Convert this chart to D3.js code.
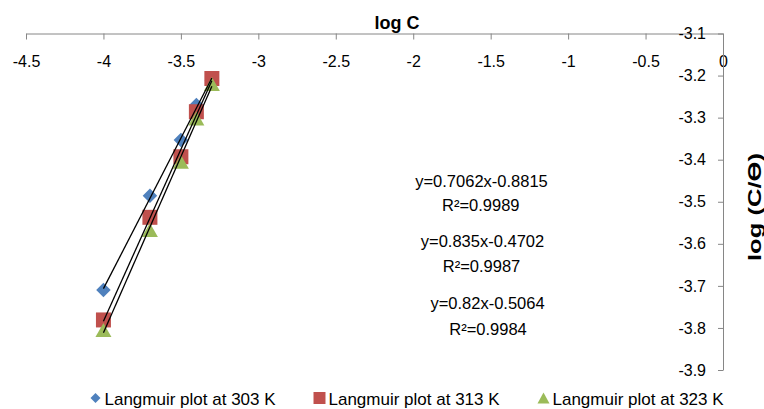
<!DOCTYPE html>
<html>
<head>
<meta charset="utf-8">
<script src="https://cdn.jsdelivr.net/npm/d3@7"></script>
<style>
  body { margin: 0; background: #fff; }
  svg  { display: block; font-family: "Liberation Sans", Arial, sans-serif; }
</style>
</head>
<body>
<div id="chart"></div>
<script>
// log C, shared by the three temperatures
var logC = [-4, -3.7, -3.5, -3.4, -3.3];

// log (C/θ), one list per temperature
var logCTheta303 = [-3.71, -3.486, -3.353, -3.27, -3.212];
var logCTheta313 = [-3.781, -3.537, -3.393, -3.286, -3.207];
var logCTheta323 = [-3.805, -3.567, -3.405, -3.302, -3.22];

var seriesNames = ['Langmuir plot at 303 K', 'Langmuir plot at 313 K', 'Langmuir plot at 323 K'];
var fitEquations = ['y=0.7062x-0.8815', 'y=0.835x-0.4702', 'y=0.82x-0.5064'];
var fitR2        = ['R²=0.9989', 'R²=0.9987', 'R²=0.9984'];

var xTicks = [-4.5, -4, -3.5, -3, -2.5, -2, -1.5, -1, -0.5, 0];
var yTicks = [-3.9, -3.8, -3.7, -3.6, -3.5, -3.4, -3.3, -3.2, -3.1];

// Layout
var W = 764, H = 409;
var colors  = ['#4F81BD', '#C0504D', '#9BBB59'];
var shapes  = ['diamond', 'square', 'triangle'];
var axisCol = '#868686';

var svg = d3.select('#chart').append('svg')
    .attr('width', W)
    .attr('height', H);

var x = d3.scaleLinear().domain([-4.5, 0]).range([26, 723]);
var y = d3.scaleLinear().domain([-3.9, -3.1]).range([370, 33.5]);

// Marker outlines, centred on their bounding box
function marker(kind, w, h){
    var a = w / 2, b = h / 2;
    if(kind == 'diamond')
        return 'M0,' + (-b) + 'L' + a + ',0L0,' + b + 'L' + (-a) + ',0Z';
    if(kind == 'square')
        return 'M' + (-a) + ',' + (-b) + 'H' + a + 'V' + b + 'H' + (-a) + 'Z';
    return 'M0,' + (-b) + 'L' + a + ',' + b + 'L' + (-a) + ',' + b + 'Z';
}
var plotSize   = { diamond: [14.5, 14.5], square: [15, 15], triangle: [16, 14] };
var legendSize = { diamond: [10, 10],     square: [12, 12], triangle: [12, 11] };

// X axis on top
var xAxis = svg.append('g')
    .attr('transform', 'translate(0,' + y(-3.1) + ')')
    .call(d3.axisBottom(x).tickValues(xTicks).tickSize(6).tickSizeOuter(0)
        .tickFormat(function(d){ return String(d); }));
xAxis.selectAll('path, line').attr('stroke', axisCol);
xAxis.selectAll('text')
    .attr('y', 33).attr('dy', 0)
    .attr('font-size', 16).attr('font-family', null).attr('fill', '#000');

// Y axis on the right, labels to its left
var yAxis = svg.append('g')
    .attr('transform', 'translate(' + x(0) + ',0)')
    .call(d3.axisLeft(y).tickValues(yTicks).tickSize(5).tickPadding(12).tickSizeOuter(0)
        .tickFormat(function(d){ return d.toFixed(1); }));
yAxis.selectAll('path, line').attr('stroke', axisCol);
yAxis.selectAll('text')
    .attr('font-size', 16).attr('font-family', null).attr('fill', '#000');

// Axis titles
svg.append('text')
    .attr('x', 397).attr('y', 29)
    .attr('text-anchor', 'middle')
    .attr('font-size', 18).attr('font-weight', 'bold')
    .text('log C');

svg.append('text')
    .attr('transform', 'translate(761,207) rotate(-90)')
    .attr('text-anchor', 'middle')
    .attr('font-size', 19).attr('font-weight', 'bold')
    .attr('textLength', 108).attr('lengthAdjust', 'spacingAndGlyphs')
    .text('log (C/ϴ)');

// Series
var series = [logCTheta303, logCTheta313, logCTheta323].map(function(vals, i){
    return {
        name  : seriesNames[i],
        color : colors[i],
        shape : shapes[i],
        pts   : logC.map(function(c, j){ return { x: c, y: vals[j] }; })
    };
});

series.forEach(function(s){
    var sz = plotSize[s.shape];
    svg.append('g').selectAll('path')
        .data(s.pts)
        .enter()
        .append('path')
        .attr('transform', function(d){ return 'translate(' + x(d.x) + ',' + y(d.y) + ')'; })
        .attr('d', marker(s.shape, sz[0], sz[1]))
        .attr('fill', s.color);
});

// Linear trend lines (least squares) drawn on top
series.forEach(function(s){
    var mx = d3.mean(s.pts, function(d){ return d.x; });
    var my = d3.mean(s.pts, function(d){ return d.y; });
    var sxy = d3.sum(s.pts, function(d){ return (d.x - mx) * (d.y - my); });
    var sxx = d3.sum(s.pts, function(d){ return (d.x - mx) * (d.x - mx); });
    var m = sxy / sxx, b = my - m * mx;
    var ends = d3.extent(s.pts, function(d){ return d.x; });
    svg.append('line')
        .attr('x1', x(ends[0])).attr('y1', y(m * ends[0] + b))
        .attr('x2', x(ends[1])).attr('y2', y(m * ends[1] + b))
        .attr('stroke', '#000')
        .attr('stroke-width', 1.3);
});

// Trend line labels
var eqPos = [[481.5, 187], [482.5, 247], [487.5, 309]];
var r2Pos = [[480.8, 211], [481.5, 271.5], [488, 335]];
fitEquations.forEach(function(t, i){
    svg.append('text')
        .attr('x', eqPos[i][0]).attr('y', eqPos[i][1])
        .attr('text-anchor', 'middle').attr('font-size', 16.5)
        .text(t);
    svg.append('text')
        .attr('x', r2Pos[i][0]).attr('y', r2Pos[i][1])
        .attr('text-anchor', 'middle').attr('font-size', 16.5)
        .text(fitR2[i]);
});

// Legend
var legendX = [95.5, 319.5, 543.5];
var legend = svg.append('g').selectAll('g')
    .data(series)
    .enter()
    .append('g')
    .attr('transform', function(d, i){ return 'translate(' + legendX[i] + ',398)'; });
legend.append('path')
    .attr('d', function(d){ var sz = legendSize[d.shape]; return marker(d.shape, sz[0], sz[1]); })
    .attr('fill', function(d){ return d.color; });
legend.append('text')
    .attr('x', 9).attr('y', 6.5)
    .attr('font-size', 17)
    .text(function(d){ return d.name; });
</script>
</body>
</html>
